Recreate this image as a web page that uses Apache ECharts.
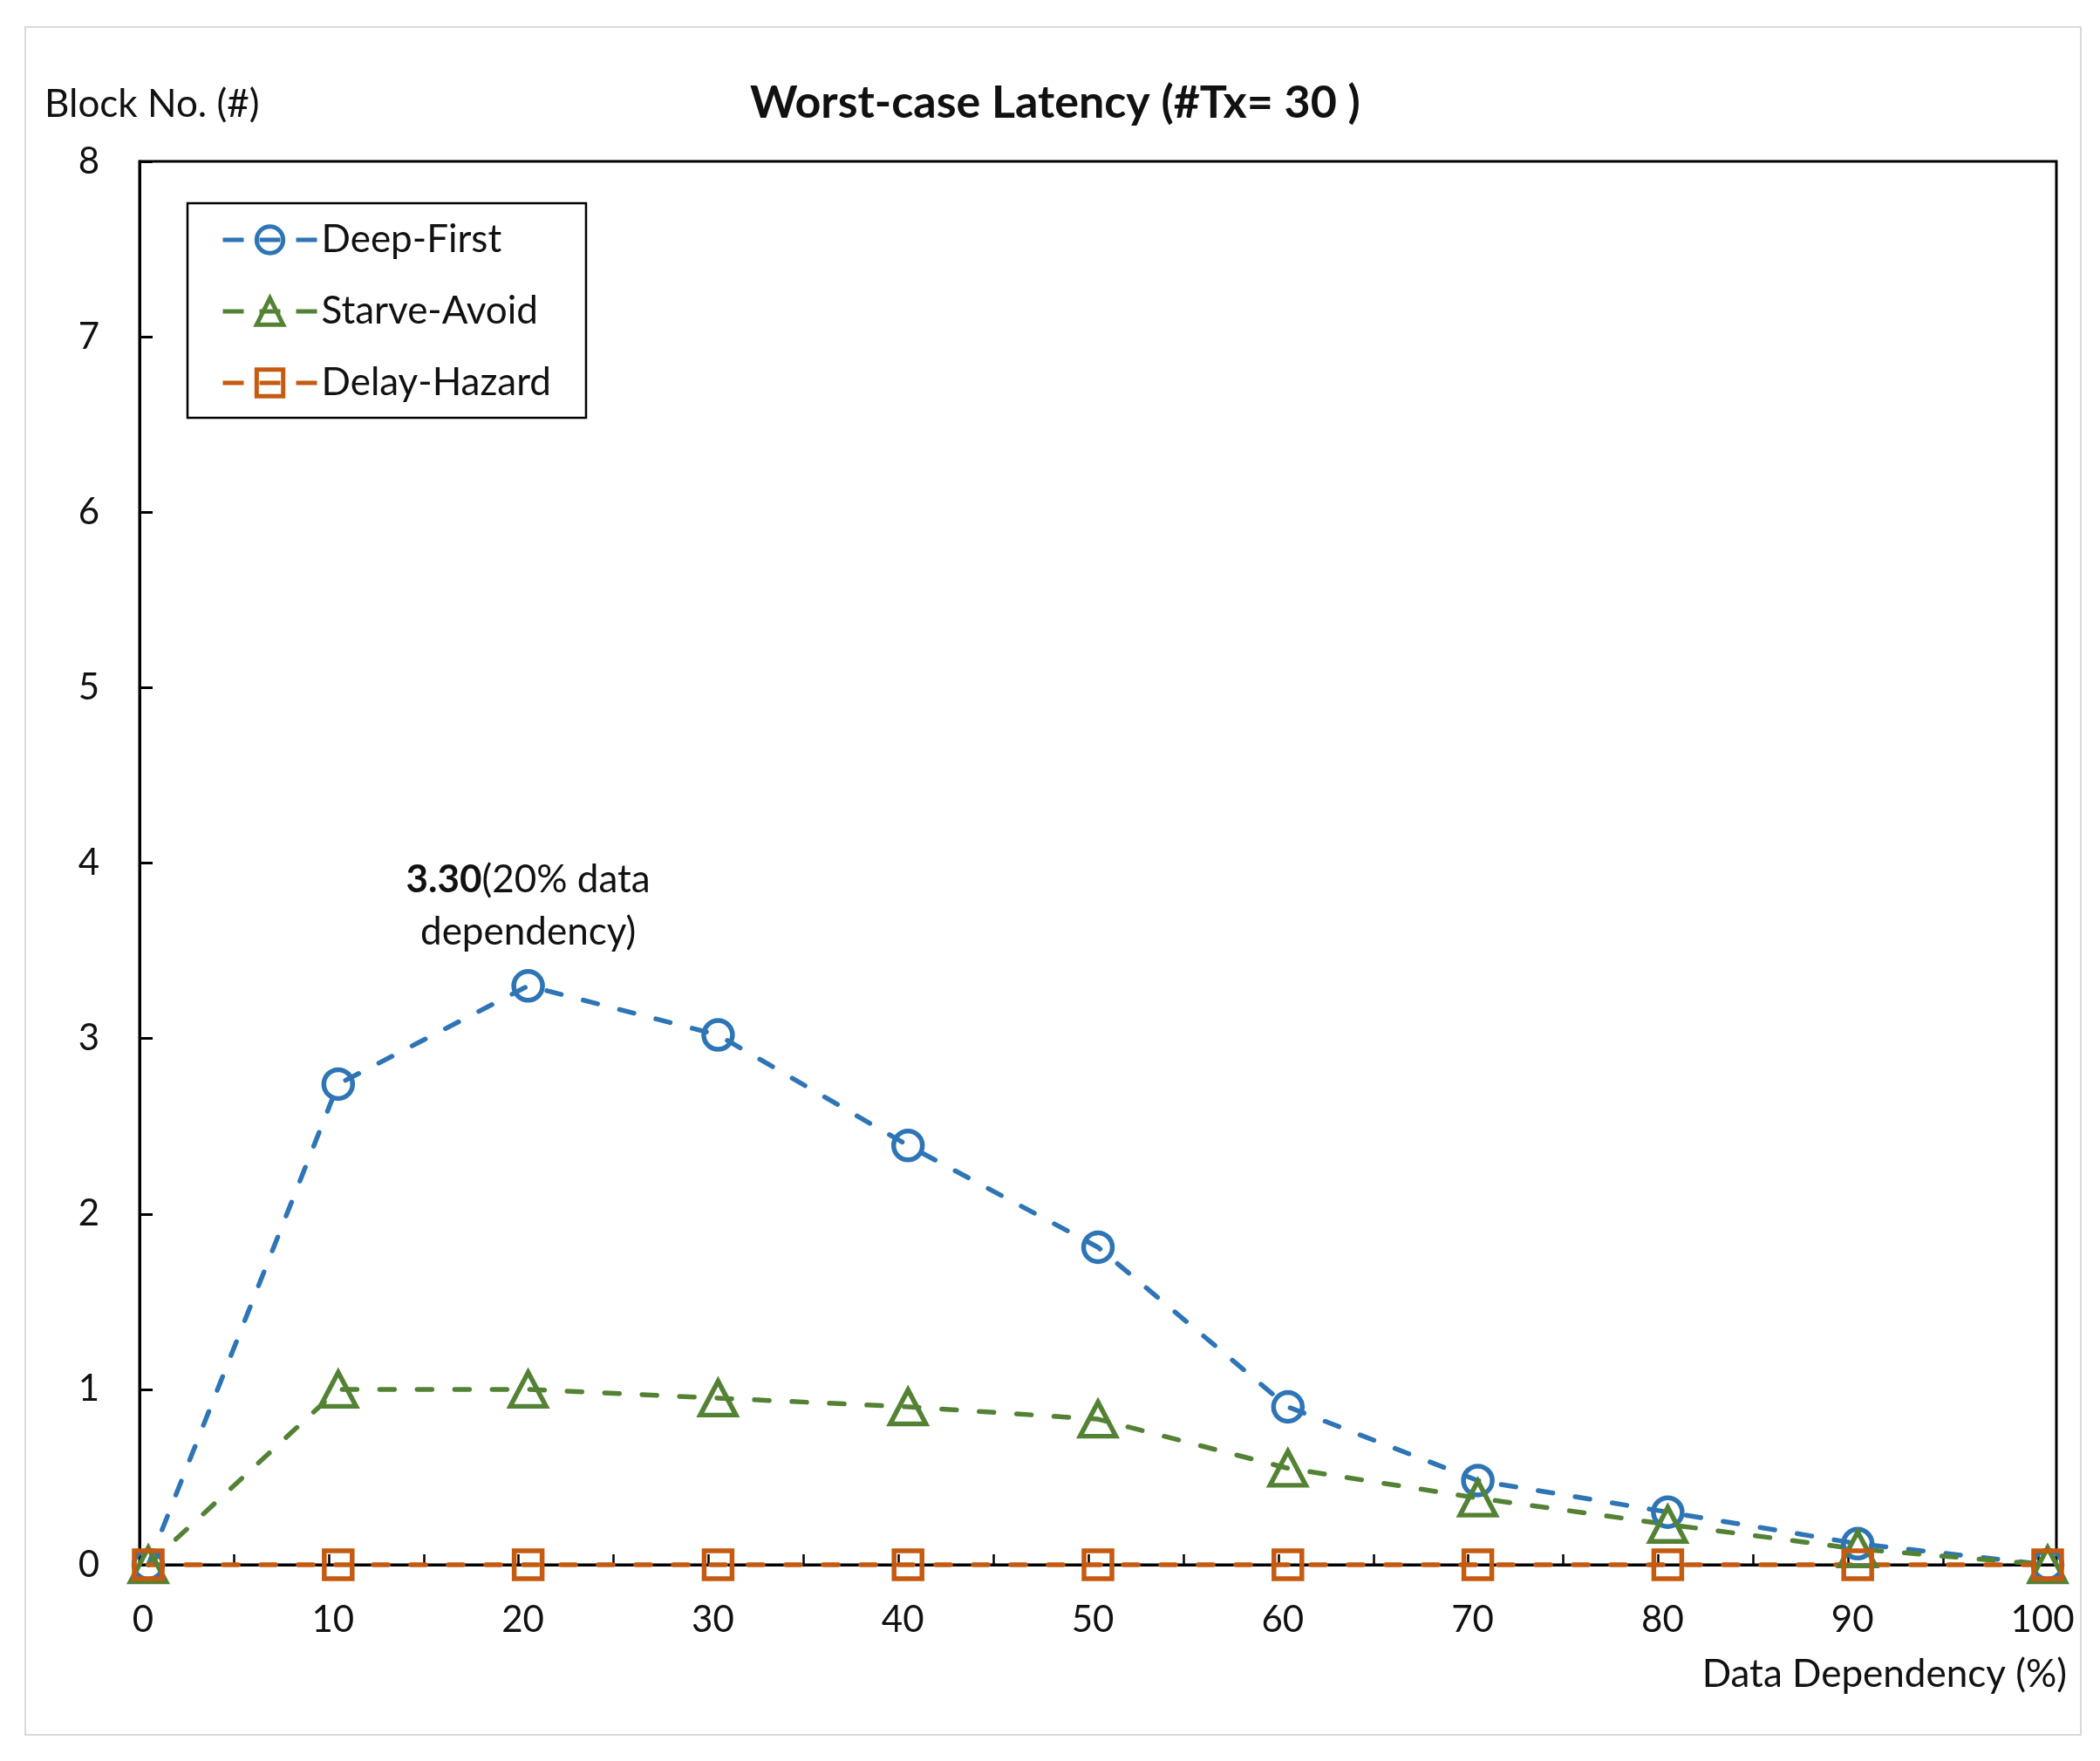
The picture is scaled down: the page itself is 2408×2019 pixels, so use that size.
<!DOCTYPE html>
<html>
<head>
<meta charset="utf-8">
<title>Worst-case Latency</title>
<script src="https://cdn.jsdelivr.net/npm/echarts@6/dist/echarts.min.js"></script>
<style>
  html, body { margin: 0; padding: 0; background: #fff; }
  #chart { width: 2408px; height: 2019px; }
</style>
</head>
<body>
<div id="chart"></div>
<script>
// data dependency (%) on x, worst-case latency in blocks on y
const dependency = [0, 10, 20, 30, 40, 50, 60, 70, 80, 90, 100];
const deepFirst = [0, 2.74, 3.30, 3.02, 2.39, 1.81, 0.90, 0.48, 0.30, 0.12, 0];
const starveAvoid = [0, 1.00, 1.00, 0.95, 0.90, 0.83, 0.55, 0.38, 0.23, 0.09, 0];
const delayHazard = [0, 0, 0, 0, 0, 0, 0, 0, 0, 0, 0];

const xLabelValues = [0, 10, 20, 30, 40, 50, 60, 70, 80, 90, 100];
const xTickValues = [4.5, 9.5, 14.5, 19.5, 24.5, 29.5, 34.5, 39.5, 44.5, 49.5,
  54.5, 59.5, 64.5, 69.5, 74.5, 79.5, 84.5, 89.5, 94.5, 99.5];

const FONT = 'Lato';
const BLUE = '#2E75B6';
const GREEN = '#548235';
const ORANGE = '#C55A11';

const chart = echarts.init(document.getElementById('chart'));

// peak of Deep-First gets the callout label
const peakIdx = deepFirst.indexOf(Math.max(...deepFirst));
const deepData = dependency.map((x, i) => {
  if (i !== peakIdx) return [x, deepFirst[i]];
  return {
    value: [x, deepFirst[i]],
    label: {
      show: true,
      position: 'top',
      distance: 12,
      fontFamily: FONT,
      fontSize: 44,
      lineHeight: 60,
      color: '#111',
      formatter: `{b|${deepFirst[i].toFixed(2)}}(${x}% data\ndependency)`,
      rich: {
        b: { fontFamily: FONT, fontSize: 44, fontWeight: 'bold', lineHeight: 60, color: '#111' }
      }
    }
  };
});

function lineSeries(name, data, color, symbol, size) {
  return {
    name: name,
    type: 'line',
    data: data,
    symbol: symbol,
    symbolSize: size,
    showAllSymbol: true,
    clip: false,
    lineStyle: { color: color, width: 5.5, type: [17, 26], cap: 'round' },
    itemStyle: { color: 'transparent', borderColor: color, borderWidth: 5.5 },
    emphasis: { disabled: true }
  };
}

const option = {
  backgroundColor: '#fff',
  animation: false,
  title: [
    {
      text: 'Worst-case Latency (#Tx= 30 )',
      left: 860, top: 92, padding: 0,
      textStyle: { fontFamily: FONT, fontSize: 52, fontWeight: 'bold', color: '#111' }
    },
    {
      text: 'Block No. (#)',
      left: 51, top: 98, padding: 0,
      textStyle: { fontFamily: FONT, fontSize: 44, fontWeight: 'normal', color: '#111' }
    },
    {
      text: 'Data Dependency (%)',
      right: 38, top: 1898, padding: 0,
      textStyle: { fontFamily: FONT, fontSize: 44, fontWeight: 'normal', color: '#111' }
    }
  ],
  graphic: [
    {
      type: 'rect',
      shape: { x: 29, y: 31, width: 2357, height: 1958 },
      style: { fill: 'none', stroke: '#d9d9d9', lineWidth: 2 },
      silent: true
    }
  ],
  legend: {
    orient: 'vertical',
    left: 215,
    top: 233,
    padding: [20, 40, 18, 38],
    itemWidth: 108,
    itemHeight: 38,
    itemGap: 38,
    borderColor: '#000',
    borderWidth: 2.5,
    textStyle: { fontFamily: FONT, fontSize: 44, color: '#111' },
    itemStyle: { borderWidth: 5 },
    lineStyle: { type: [24, 18], cap: 'butt', width: 5 },
    data: ['Deep-First', 'Starve-Avoid', 'Delay-Hazard']
  },
  grid: {
    left: 160, right: 50, top: 185, bottom: 225,
    show: true, borderColor: '#000', borderWidth: 3,
    containLabel: false
  },
  xAxis: {
    type: 'value',
    min: -0.46,
    max: 100.46,
    axisLine: { show: true, onZero: false, lineStyle: { color: '#000', width: 3 } },
    splitLine: { show: false },
    axisTick: {
      show: true, inside: true, length: 12,
      customValues: xTickValues,
      lineStyle: { color: '#000', width: 2.5 }
    },
    axisLabel: {
      customValues: xLabelValues,
      margin: 42,
      padding: [0, 12, 0, 0],
      fontFamily: FONT, fontSize: 42, color: '#111'
    }
  },
  yAxis: {
    type: 'value',
    min: 0,
    max: 8,
    interval: 1,
    axisLine: { show: true, onZero: false, lineStyle: { color: '#000', width: 3 } },
    splitLine: { show: false },
    axisTick: { show: true, inside: true, length: 15, lineStyle: { color: '#000', width: 3 } },
    axisLabel: { margin: 46, fontFamily: FONT, fontSize: 42, color: '#111' }
  },
  series: [
    lineSeries('Deep-First', deepData, BLUE, 'circle', 33),
    lineSeries('Starve-Avoid', dependency.map((x, i) => [x, starveAvoid[i]]), GREEN, 'triangle', [41, 39]),
    lineSeries('Delay-Hazard', dependency.map((x, i) => [x, delayHazard[i]]), ORANGE, 'rect', 32)
  ]
};

chart.setOption(option);
</script>
</body>
</html>
